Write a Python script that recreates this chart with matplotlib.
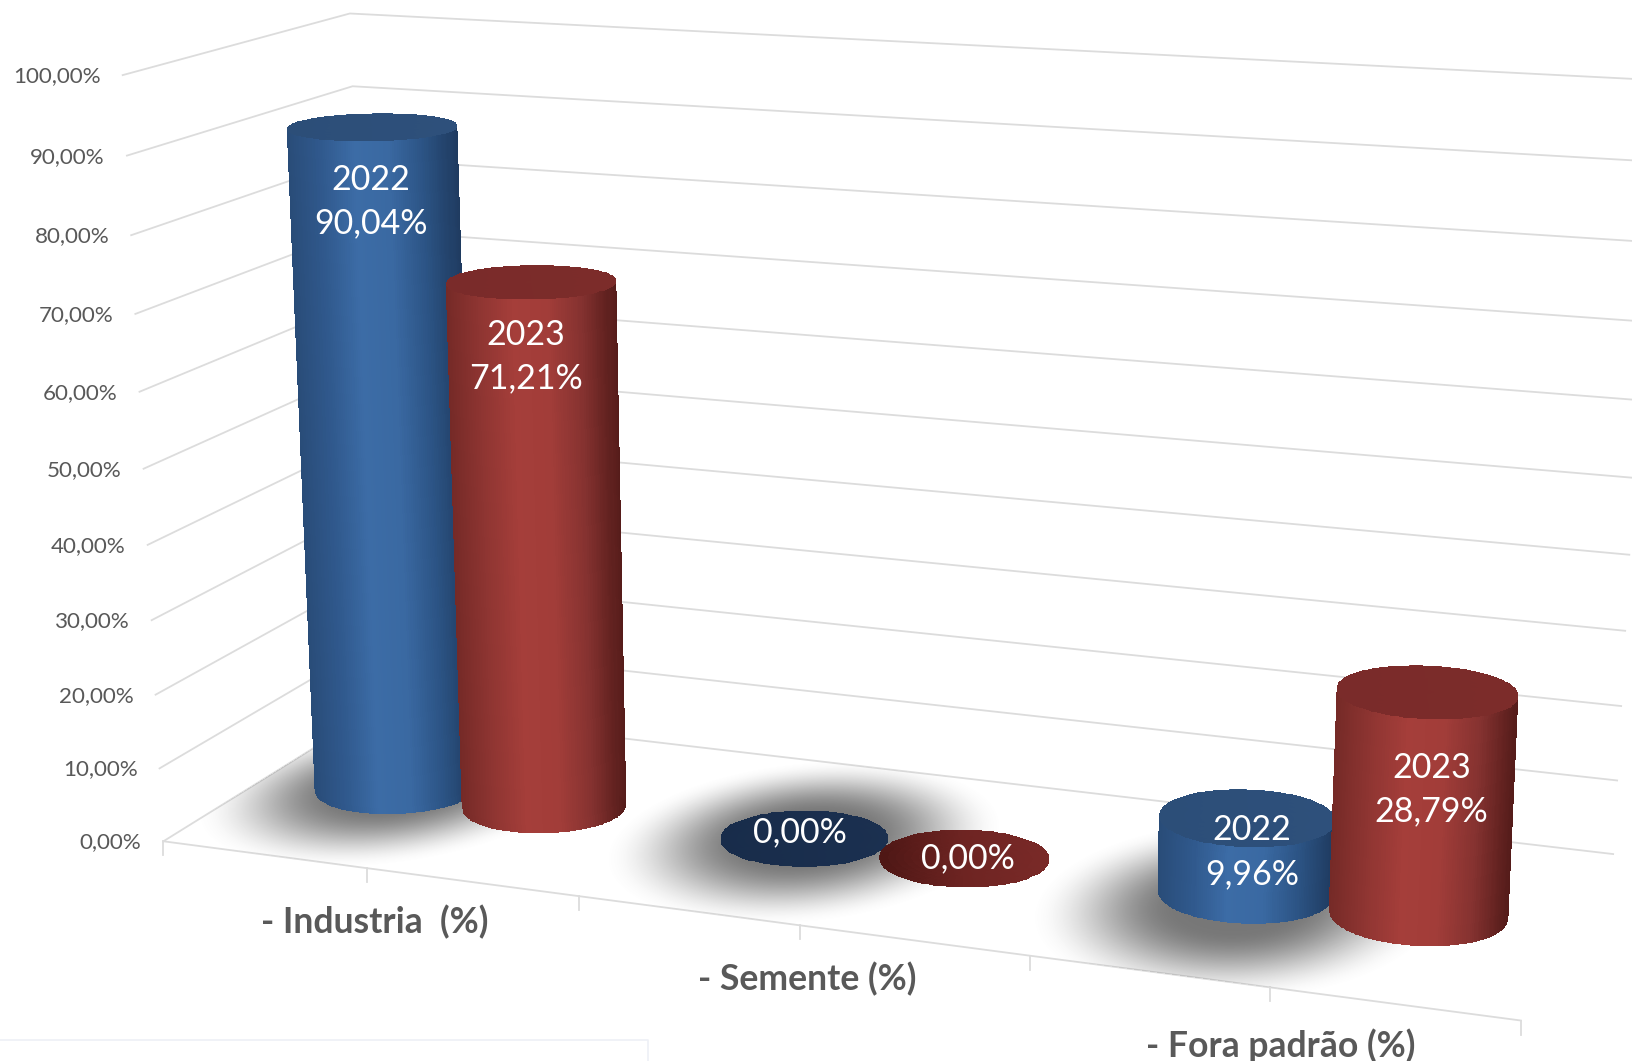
import numpy as np
import matplotlib
matplotlib.use("Agg")
import matplotlib.pyplot as plt
from matplotlib.colors import LinearSegmentedColormap

categories = ["- Industria  (%)", "- Semente (%)", "- Fora padrão (%)"]
years = ["2022", "2023"]
values_2022 = [90.04, 0.00, 9.96]
values_2023 = [71.21, 0.00, 28.79]
value_ticks = [0, 10, 20, 30, 40, 50, 60, 70, 80, 90, 100]

W, H = 1632, 1061
S = 1632 / 1568  # I measured the picture at 1568 wide

# calibration of the fake 3D box: (x cat, value/100, depth) -> measured screen point
world = np.array([[0, 0, 0], [0, 1, 0], [0, 1, 1], [3, 1, 1],
                  [3, 0, 0], [0, 0, 1], [3, 0, 1]], dtype=float)
screen = np.array([[157, 808], [118, 72], [336, 13], [1590, 77],
                   [1461, 981], [361, 682], [1550, 820]], dtype=float) * S


def fit_camera(w, s):
    rows, rhs = [], []
    for (a, b, c), (u, v) in zip(w, s):
        rows.append([a, b, c, 1, 0, 0, 0, 0, -u * a, -u * b, -u * c])
        rows.append([0, 0, 0, 0, a, b, c, 1, -v * a, -v * b, -v * c])
        rhs += [u, v]
    p = np.linalg.lstsq(np.array(rows), np.array(rhs), rcond=None)[0]
    return np.append(p, 1).reshape(3, 4)


P = fit_camera(world, screen)


def project(x, val, z):
    x, val, z = np.broadcast_arrays(np.asarray(x, float), np.asarray(val, float) / 100, np.asarray(z, float))
    d = P[2, 0] * x + P[2, 1] * val + P[2, 2] * z + P[2, 3]
    u = (P[0, 0] * x + P[0, 1] * val + P[0, 2] * z + P[0, 3]) / d
    v = (P[1, 0] * x + P[1, 1] * val + P[1, 2] * z + P[1, 3]) / d
    return u, v


RX, RZ = 0.183, 0.178
ZC = 0.5
GRID = "#dcdcdc"
TXT = "#595959"
FONT = ["Lato", "DejaVu Sans"]

blue_side = LinearSegmentedColormap.from_list("bs", ["#294c78", "#30598d", "#3c6ca6", "#3a69a2", "#2c5485", "#1f3b60"])
red_side = LinearSegmentedColormap.from_list("rs", ["#752a27", "#8f3532", "#a53e3a", "#a23d39", "#853230", "#551c1a"])
blue_cap = LinearSegmentedColormap.from_list("bc", ["#2c4e78", "#2e507b"])
red_cap = LinearSegmentedColormap.from_list("rc", ["#7a2b2a", "#7c2c2a"])
blue_zero = LinearSegmentedColormap.from_list("bz", ["#182c4a", "#1b3050"])
red_zero = LinearSegmentedColormap.from_list("rz", ["#4c1614", "#6e2422", "#7a2a28"])


def draw_cylinder(ax, xc, val, side, cap, z):
    th = np.linspace(0, 2 * np.pi, 241)
    cx = xc + RX * np.cos(th)
    cz = ZC + RZ * np.sin(th)
    bx, by = project(cx, 0, cz)
    tx, ty = project(cx, val, cz)
    if val > 0:
        umin, umax = bx.min(), bx.max()
        u = (0.5 * (bx[:-1] + bx[1:]) - umin) / (umax - umin)
        for part in [np.arange(0, 120), np.arange(120, 240)]:  # back half, then front
            xs = np.vstack([bx[part[0]:part[-1] + 2], tx[part[0]:part[-1] + 2]])
            ys = np.vstack([by[part[0]:part[-1] + 2], ty[part[0]:part[-1] + 2]])
            ax.pcolormesh(xs, ys, np.clip(u[part], 0, 1)[None, :], cmap=side, vmin=0, vmax=1,
                          shading="flat", edgecolors="face", linewidth=0.4, zorder=z)
    # cap as a small polar mesh
    rr = np.linspace(0, 1, 12)
    T, R = np.meshgrid(th[::2], rr)
    mx, my = project(xc + RX * R * np.cos(T), val, ZC + RZ * R * np.sin(T))
    cu = (mx - mx.min()) / (mx.max() - mx.min())
    ax.pcolormesh(mx, my, cu[:-1, :-1], cmap=cap, vmin=0, vmax=1, shading="flat",
                  edgecolors="face", linewidth=0.4, zorder=z + 0.1)


fig = plt.figure(figsize=(W / 100, H / 100), dpi=100)
ax = fig.add_axes([0, 0, 1, 1])
plt.rcParams["font.family"] = FONT

# walls and floor lines
for v in value_ticks:
    xs, ys = project([0, 0, 3], v, [0, 1, 1])
    ax.plot(xs, ys, color=GRID, lw=1.3, zorder=1, solid_joinstyle="miter")
    ax.text(xs[0] - 22, ys[0] + 1, f"{v:.2f}%".replace(".", ","), ha="right", va="center",
            fontsize=16.1, color=TXT, family=FONT)

xs, ys = project([0, 3], 0, 0)
ax.plot(xs, ys, color=GRID, lw=1.3, zorder=1)
for t in np.arange(0, 3.01, 0.5):
    tx, ty = project(t, 0, 0)
    ax.plot([tx, tx], [ty, ty + 14], color=GRID, lw=1.3, zorder=1)

# soft shadows: map every pixel back on to the floor plane
centers = np.array([0.5, 1.5, 2.5])
floor = np.linalg.inv(P[:, [0, 2, 3]])
px, py = np.meshgrid(np.arange(W) + 0.5, np.arange(H) + 0.5)
den = floor[2, 0] * px + floor[2, 1] * py + floor[2, 2]
FX = (floor[0, 0] * px + floor[0, 1] * py + floor[0, 2]) / den
FZ = (floor[1, 0] * px + floor[1, 1] * py + floor[1, 2]) / den
shade = np.zeros_like(FX)
shadow_dx = [0.0, 0.0, 0.0]
shadow_dz = [0.0, 0.0, -0.08]
for i, c in enumerate(centers):
    d = np.sqrt(((FX - (c - RX + shadow_dx[i])) / 0.42) ** 2 + ((FZ - ZC - shadow_dz[i]) / 0.55) ** 2)
    a = np.clip((1 - d) / 0.72, 0, 1)
    shade = np.maximum(shade, a * a * (3 - 2 * a))
shade[(FX < 0) | (FX > 3) | (FZ < 0) | (FZ > 1)] = 0
rgba = np.zeros((H, W, 4))
rgba[..., :3] = 0.47
rgba[..., 3] = shade
ax.imshow(rgba, extent=(0, W, H, 0), origin="upper", interpolation="bilinear", zorder=2, aspect="auto")

# bars: (dx, dy) of label from the cap centre, in px
label_off_2022 = [(-1, 75), (-3.5, -5), (5.5, 35)]
label_off_2023 = [(-5, 75), (4, 1), (5, 98)]
for i, c in enumerate(centers):
    z = 3 + i
    for j, (vals, offs, side) in enumerate([(values_2022, label_off_2022, blue_side),
                                            (values_2023, label_off_2023, red_side)]):
        val = vals[i]
        xc = c - RX - 0.006 if j == 0 else c + RX
        if val > 0:
            cap = blue_cap if j == 0 else red_cap
        else:
            cap = blue_zero if j == 0 else red_zero
        draw_cylinder(ax, xc, val, side, cap, z + j * 0.3)
        lx, ly = project(xc, val, ZC)
        txt = f"{val:.2f}%".replace(".", ",")
        if val > 0:
            txt = years[j] + "\n" + txt
        ax.text(lx + offs[i][0], ly + offs[i][1], txt, ha="center", va="center", color="white",
                fontsize=24.5, linespacing=1.44, zorder=10, family=FONT)

# category labels sit under the middle tick of each group
cat_dx = [7, 7, 10]
cat_dy = [53.5, 54, 58]
for i, c in enumerate(centers):
    lx, ly = project(c, 0, 0)
    ax.text(lx + cat_dx[i], ly + cat_dy[i], categories[i], ha="center", va="center", color=TXT,
            fontsize=25.6, fontweight="bold", zorder=10, family=FONT)

# faint frame left at the bottom of the screenshot
ax.plot([0, 648, 648], [1040, 1040, H], color="#eef0f6", lw=1.2, zorder=1)

ax.set_xlim(0, W)
ax.set_ylim(H, 0)
ax.axis("off")
fig.savefig("out.png", dpi=100)
